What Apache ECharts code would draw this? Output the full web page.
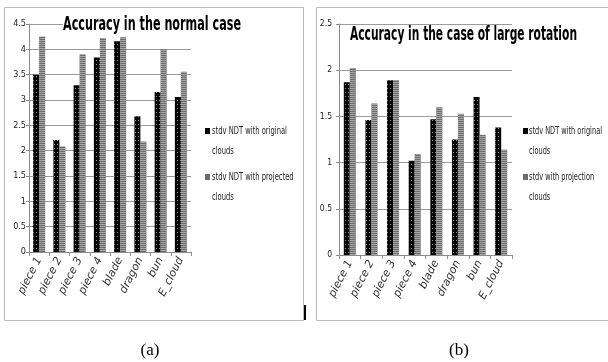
<!DOCTYPE html>
<html><head><meta charset="utf-8">
<script src="https://cdn.jsdelivr.net/npm/echarts@6/dist/echarts.min.js"></script>
<style>html,body{margin:0;padding:0;background:#fff}#c{width:608px;height:362px}</style>
</head><body><div id="c"></div>
<script>
const categories = ['piece 1','piece 2','piece 3','piece 4','blade','dragon','bun','E_cloud'];
const normalOriginal = [3.5, 2.21, 3.29, 3.84, 4.16, 2.68, 3.16, 3.06];
const normalProjected = [4.25, 2.08, 3.9, 4.22, 4.24, 2.18, 4.0, 3.56];
const rotationOriginal = [1.87, 1.46, 1.89, 1.02, 1.47, 1.25, 1.71, 1.38];
const rotationProjection = [2.02, 1.64, 1.89, 1.09, 1.6, 1.53, 1.3, 1.14];
const namesA = ['stdv NDT with original clouds', 'stdv NDT with projected clouds'];
const namesB = ['stdv NDT with original clouds', 'stdv with projection clouds'];
const titleA = 'Accuracy in the normal case';
const titleB = 'Accuracy in the case of large rotation';
const captionA = '(a)';
const captionB = '(b)';

const TITLE_FONT = 'bold 20px "Liberation Sans Narrow", "DejaVu Sans Condensed", sans-serif';
const LEGEND_FONT = '11px "DejaVu Sans Condensed", sans-serif';
function measure(text, font) {
  const ctx = document.createElement('canvas').getContext('2d');
  ctx.font = font; return ctx.measureText(text).width;
}
const scaleA = 178 / measure(titleA, TITLE_FONT);
const scaleB = 227 / measure(titleB, TITLE_FONT);
const legScaleA = 75 / measure('stdv NDT with original', LEGEND_FONT);
const legScaleB = 73 / measure('stdv NDT with original', LEGEND_FONT);

const BLACK = '#050505', GRAY = '#6c6c6c';
const blackStyle = {
  color: BLACK,
  decal: { color: 'rgba(255,255,255,0.55)', symbol: 'rect', symbolSize: 1, dashArrayX: [1, 2], dashArrayY: [1, 3], rotation: 0 }
};
const grayStyle = {
  color: GRAY,
  decal: { color: '#a6a6a6', symbol: 'rect', symbolSize: 1, dashArrayX: [[1, 0]], dashArrayY: [1, 1], rotation: 0 }
};

const axisFont = '"Liberation Sans Narrow", "DejaVu Sans Condensed", sans-serif';
function xAxisCfg(idx) {
  return {
    type: 'category', gridIndex: idx, data: categories,
    axisLine: { lineStyle: { color: '#8c8c8c', width: 1 } },
    axisTick: { show: true, length: 4, lineStyle: { color: '#8c8c8c' } },
    axisLabel: { rotate: 63, fontSize: 11, fontStyle: 'italic', fontFamily: 'DejaVu Sans', color: '#333', margin: 6, interval: 0 }
  };
}
function yAxisCfg(idx, max, fs, margin) {
  return {
    type: 'value', gridIndex: idx, min: 0, max: max, interval: 0.5,
    axisLine: { show: true, lineStyle: { color: '#8c8c8c', width: 1 } },
    axisTick: { show: true, length: 3, lineStyle: { color: '#8c8c8c' } },
    axisLabel: { fontSize: fs, fontFamily: axisFont, color: '#222', margin: margin },
    splitLine: { show: true, lineStyle: { color: '#9a9a9a', width: 1 } }
  };
}
function legendGraphics(iconX, textX, names, scale) {
  const out = [];
  const rows = [131, 177];
  names.forEach((n, i) => {
    const parts = n.split(' clouds');
    const y = rows[i];
    out.push({ type: 'rect', shape: { x: iconX, y: y - 3, width: 5, height: 6 }, style: { fill: i === 0 ? BLACK : GRAY }, silent: true, z: 100 });
    out.push({ type: 'text', x: textX, y: y, scaleX: scale, silent: true, z: 100,
      style: { text: parts[0], font: LEGEND_FONT, fill: '#222', verticalAlign: 'middle', align: 'left' } });
    out.push({ type: 'text', x: textX, y: y + 20, scaleX: scale, silent: true, z: 100,
      style: { text: 'clouds', font: LEGEND_FONT, fill: '#222', verticalAlign: 'middle', align: 'left' } });
  });
  return out;
}

const chart = echarts.init(document.getElementById('c'), null, { renderer: 'canvas' });
chart.setOption({
  animation: false,
  backgroundColor: '#fff',
  grid: [
    { left: 29, top: 24, width: 162, height: 228, containLabel: false },
    { left: 339, top: 24, width: 173, height: 231, containLabel: false }
  ],
  xAxis: [xAxisCfg(0), xAxisCfg(1)],
  yAxis: [yAxisCfg(0, 4.5, 9, 3), yAxisCfg(1, 2.5, 8.5, 7)],
  series: [
    { name: namesA[0], type: 'bar', xAxisIndex: 0, yAxisIndex: 0, data: normalOriginal, barWidth: 6, barGap: '0%', itemStyle: blackStyle },
    { name: namesA[1], type: 'bar', xAxisIndex: 0, yAxisIndex: 0, data: normalProjected, barWidth: 6, barGap: '0%', itemStyle: grayStyle },
    { name: namesB[0], type: 'bar', xAxisIndex: 1, yAxisIndex: 1, data: rotationOriginal, barWidth: 6, barGap: '0%', itemStyle: blackStyle },
    { name: namesB[1], type: 'bar', xAxisIndex: 1, yAxisIndex: 1, data: rotationProjection, barWidth: 6, barGap: '0%', itemStyle: grayStyle }
  ],
  graphic: [
    { type: 'rect', shape: { x: 4.5, y: 7.5, width: 299, height: 313 }, style: { fill: 'none', stroke: '#bdbdbd', lineWidth: 1 }, z: 0, silent: true },
    { type: 'rect', shape: { x: 316.5, y: 7.5, width: 300, height: 313 }, style: { fill: 'none', stroke: '#bdbdbd', lineWidth: 1 }, z: 0, silent: true },
    { type: 'line', shape: { x1: 305, y1: 305, x2: 305, y2: 320 }, style: { stroke: '#000', lineWidth: 2 }, z: 10, silent: true },
    { type: 'text', x: 63, y: 25, scaleX: scaleA, z: 100, silent: true,
      style: { text: titleA, font: TITLE_FONT, fill: '#000', verticalAlign: 'middle', align: 'left', backgroundColor: '#fff', lineHeight: 16 } },
    { type: 'text', x: 350, y: 35, scaleX: scaleB, z: 100, silent: true,
      style: { text: titleB, font: TITLE_FONT, fill: '#000', verticalAlign: 'middle', align: 'left' } },
    { type: 'text', x: 150, y: 351, z: 100, silent: true,
      style: { text: captionA, font: '17px "Liberation Serif", serif', fill: '#000', verticalAlign: 'middle', align: 'center' } },
    { type: 'text', x: 459, y: 351, z: 100, silent: true,
      style: { text: captionB, font: '17px "Liberation Serif", serif', fill: '#000', verticalAlign: 'middle', align: 'center' } }
  ].concat(legendGraphics(205, 212, namesA, legScaleA), legendGraphics(523, 529, namesB, legScaleB))
});
</script></body></html>
